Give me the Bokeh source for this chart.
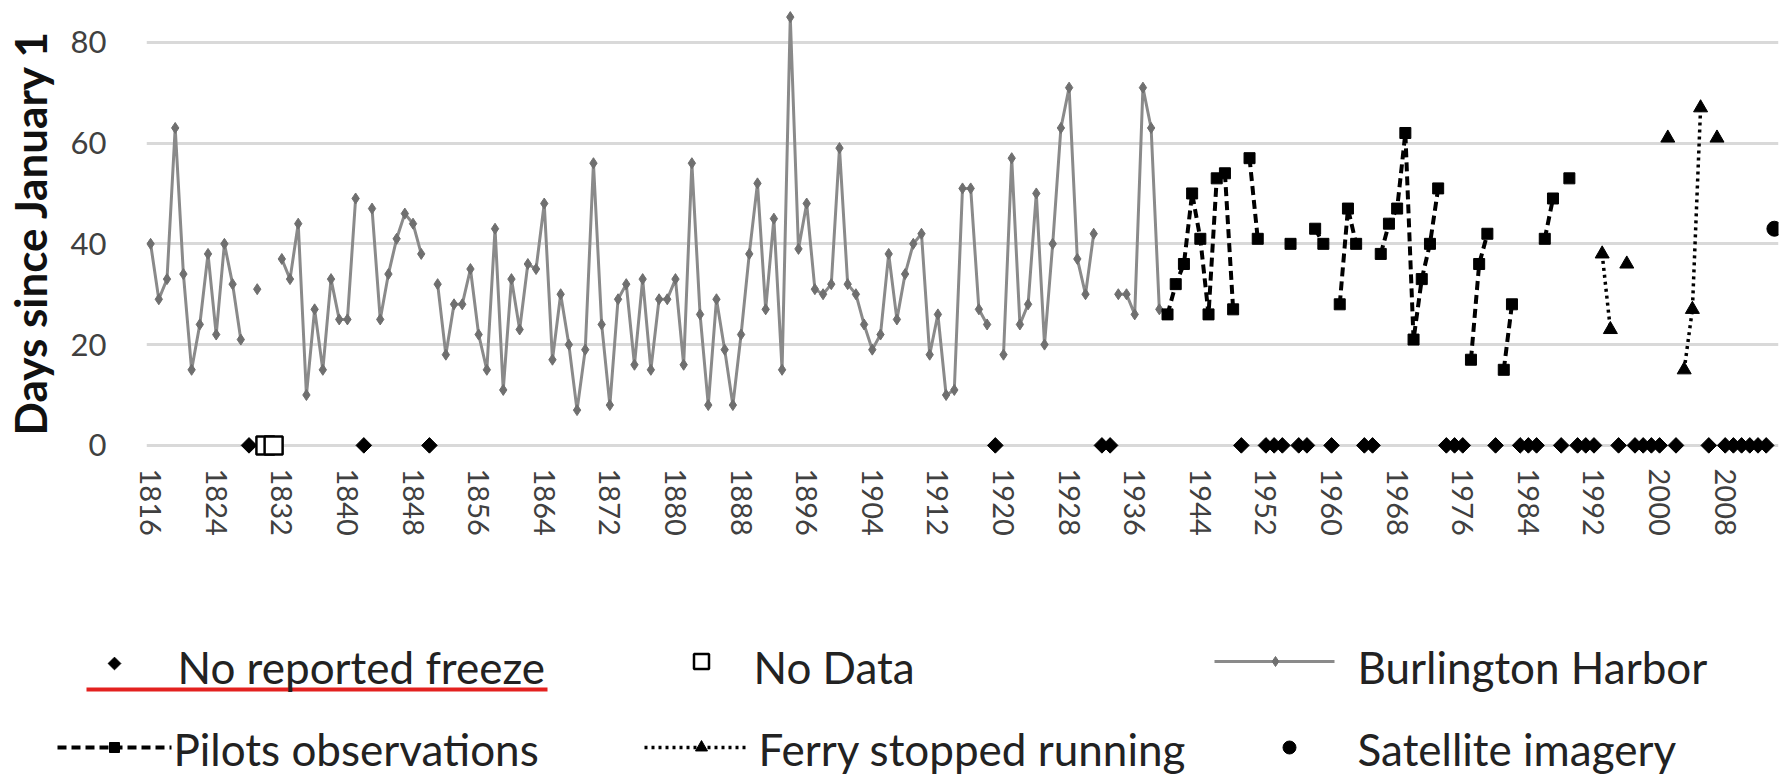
import numpy as np
from bokeh.plotting import figure
from bokeh.models import Range1d, FixedTicker
from bokeh.embed import file_html
from bokeh.resources import INLINE
from bokeh.core.properties import value

N = None
# ---------------- data (days since January 1) ----------------
harbor_years = list(range(1816, 1940))
harbor_days = [40, 29, 33, 63, 34, 15, 24, 38, 22, 40, 32, 21, N, 31, N, N,
               37, 33, 44, 10, 27, 15, 33, 25, 25, 49, N, 47, 25, 34, 41, 46,
               44, 38, N, 32, 18, 28, 28, 35, 22, 15, 43, 11, 33, 23, 36, 35,
               48, 17, 30, 20, 7, 19, 56, 24, 8, 29, 32, 16, 33, 15, 29, 29,
               33, 16, 56, 26, 8, 29, 19, 8, 22, 38, 52, 27, 45, 15, 85, 39,
               48, 31, 30, 32, 59, 32, 30, 24, 19, 22, 38, 25, 34, 40, 42, 18,
               26, 10, 11, 51, 51, 27, 24, N, 18, 57, 24, 28, 50, 20, 40, 63,
               71, 37, 30, 42, N, N, 30, 30, 26, 71, 63, 27]

pilots_years = list(range(1940, 1990))
pilots_days = [26, 32, 36, 50, 41, 26, 53, 54, 27, N, 57, 41, N, N, N, 40,
               N, N, 43, 40, N, 28, 47, 40, N, N, 38, 44, 47, 62, 21, 33,
               40, 51, N, N, N, 17, 36, 42, N, 15, 28, N, N, N, 41, 49, N, 53]

ferry_years = list(range(1993, 2008))
ferry_days = [38, 23, N, 36, N, N, N, N, 61, N, 15, 27, 67, N, 61]

satellite_years = [2014]
satellite_days = [43]

no_freeze_years = [1828, 1842, 1850, 1919, 1932, 1933, 1949, 1952, 1953, 1954,
                   1956, 1957, 1960, 1964, 1965, 1974, 1975, 1976, 1980, 1983,
                   1984, 1985, 1988, 1990, 1991, 1992, 1995, 1997, 1998, 1999,
                   2000, 2002, 2006, 2008, 2009, 2010, 2011, 2012, 2013]
no_data_years = [1830, 1831]

x_ticks = list(range(1816, 2009, 8))
y_ticks = [0, 20, 40, 60, 80]

legend_labels = ["No reported freeze", "No Data", "Burlington Harbor",
                 "Pilots observations", "Ferry stopped running", "Satellite imagery"]


def arr(v):
    return np.array([np.nan if a is None else a for a in v], dtype=float)


FONT = "Lato"
GRAY_LINE = "#8a8a8a"
GRAY_MARK = "#6f6f6f"

# ---------------- main chart ----------------
p = figure(width=1788, height=560, x_range=Range1d(1815.5, 2014.5),
           y_range=Range1d(-3, 87.5), output_backend="svg", toolbar_location=None,
           min_border_left=142, min_border_right=10, min_border_top=4,
           min_border_bottom=100)
p.outline_line_color = None
p.background_fill_color = "white"
p.border_fill_color = "white"

p.xgrid.visible = False
p.yaxis.ticker = FixedTicker(ticks=y_ticks)
p.xaxis.ticker = FixedTicker(ticks=x_ticks)
p.ygrid.grid_line_color = "#d9d9d9"
p.ygrid.grid_line_width = 3

for ax in (p.xaxis[0], p.yaxis[0]):
    ax.axis_line_color = None
    ax.major_tick_line_color = None
    ax.minor_tick_line_color = None
    ax.major_label_text_font = FONT
    ax.major_label_text_color = "#404040"

p.xaxis.major_label_text_font_size = "29px"
p.yaxis.major_label_text_font_size = "31px"
p.xaxis.major_label_orientation = "vertical"
p.xaxis.major_label_standoff = 2
p.yaxis.major_label_standoff = 34
p.yaxis.axis_label = "Days since January 1"
p.yaxis.axis_label_text_font = FONT
p.yaxis.axis_label_text_font_style = "bold"
p.yaxis.axis_label_text_font_size = "44px"
p.yaxis.axis_label_text_color = "#111111"
p.yaxis.axis_label_standoff = 12

hy = arr(harbor_days)
p.line(harbor_years, hy, line_color=GRAY_LINE, line_width=3)
p.scatter(harbor_years, hy, marker="diamond", size=11, color=GRAY_MARK)

py_ = arr(pilots_days)
p.line(pilots_years, py_, line_color="black", line_width=4, line_dash="9 5")
p.scatter(pilots_years, py_, marker="square", size=11, color="black")

fy = arr(ferry_days)
p.line(ferry_years, fy, line_color="black", line_width=3.5, line_dash="3 4")
p.scatter(ferry_years, fy, marker="triangle", size=14, color="black")

p.scatter(satellite_years, satellite_days, marker="circle", size=15, color="black")

p.scatter(no_freeze_years, [0] * len(no_freeze_years), marker="square",
          angle=np.pi / 4, size=11, color="black")
p.scatter(no_data_years, [0] * len(no_data_years), marker="square", size=18,
          fill_color="white", line_color="black", line_width=2.5)

# ---------------- legend (own canvas, coordinates = page pixels) ----------------
lg = figure(width=1788, height=218, x_range=Range1d(0, 1788),
            y_range=Range1d(778, 560), output_backend="svg",
            toolbar_location=None, x_axis_type=None, y_axis_type=None,
            min_border=0, min_border_left=0, min_border_right=0,
            min_border_top=0, min_border_bottom=0)
lg.outline_line_color = None
lg.grid.visible = False

r1, r2 = 663, 747

lg.scatter([114], [r1], marker="square", angle=np.pi / 4, size=9, color="black")
lg.segment([86], [689], [547], [689], line_color="#e3211f", line_width=4)
lg.scatter([701], [r1 - 2], marker="square", size=15, fill_color="white",
           line_color="black", line_width=2.5)
lg.line([1214, 1334], [r1 - 2, r1 - 2], line_color=GRAY_LINE, line_width=3)
lg.scatter([1275], [r1 - 2], marker="diamond", size=10, color=GRAY_MARK)

lg.line([57, 171], [r2, r2], line_color="black", line_width=4, line_dash="9 5")
lg.scatter([114], [r2], marker="square", size=10, color="black")
lg.line([644, 747], [r2, r2], line_color="black", line_width=3.5, line_dash="3 4")
lg.scatter([701], [r2], marker="triangle", size=12, color="black")
lg.scatter([1289], [r2], marker="circle", size=13, color="black")

lg.text(x=[177, 753, 1357, 173, 758, 1357],
        y=[r1 + 3, r1 + 3, r1 + 3, r2 + 1, r2 + 1, r2 + 1],
        text=legend_labels, text_font=value(FONT), text_font_size="44px",
        text_color="#222222", text_baseline="middle", text_align="left")

open("out.html", "w").write(file_html([p, lg], INLINE))
